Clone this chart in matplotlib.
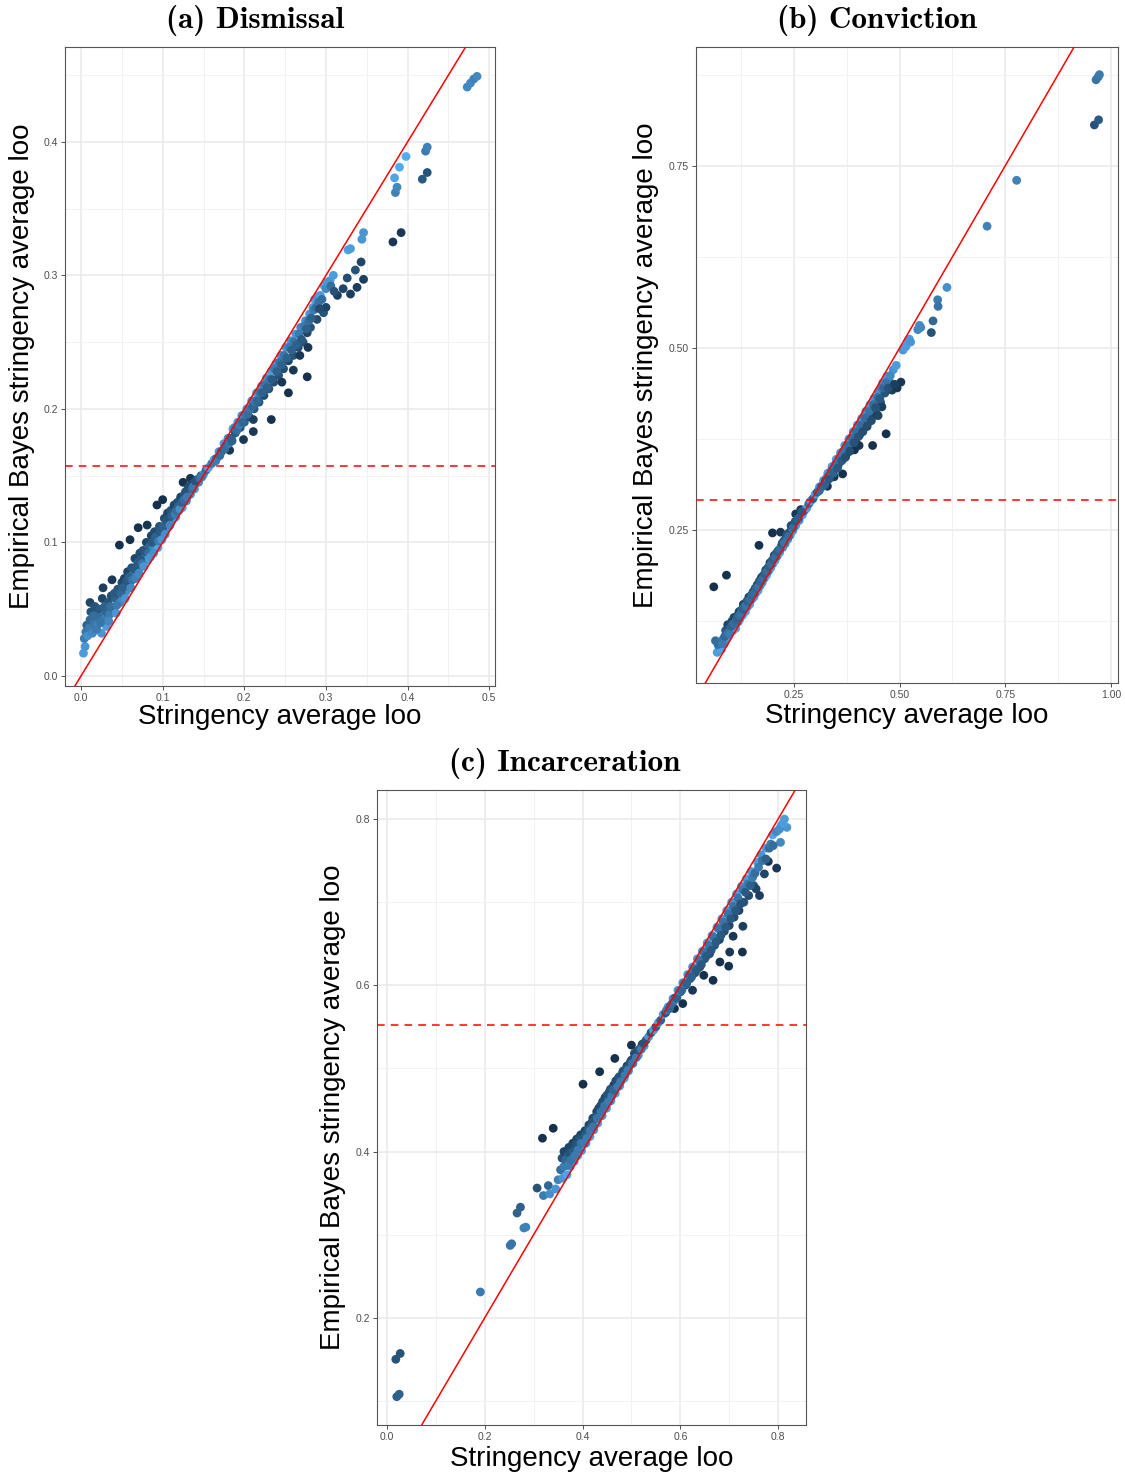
"""Empirical Bayes vs raw leave-one-out stringency, three outcomes."""
import matplotlib
matplotlib.use("Agg")
import matplotlib.pyplot as plt
from matplotlib.colors import LinearSegmentedColormap

plt.rcParams["font.family"] = ["Liberation Sans", "DejaVu Sans"]

# (stringency loo, EB stringency loo, shade)  shade: 0 dark navy .. 1 light blue
dismissal_pts = [
    (0.003, 0.017, 0.85), (0.005, 0.022, 0.8), (0.004, 0.028, 0.6), (0.006, 0.033, 0.55),
    (0.008, 0.030, 0.75), (0.007, 0.038, 0.4), (0.010, 0.036, 0.6), (0.011, 0.042, 0.45),
    (0.012, 0.048, 0.3), (0.011, 0.055, 0.2), (0.014, 0.032, 0.7), (0.016, 0.040, 0.55),
    (0.018, 0.046, 0.4), (0.017, 0.052, 0.3), (0.020, 0.038, 0.65), (0.022, 0.044, 0.5),
    (0.023, 0.050, 0.35), (0.025, 0.032, 0.8), (0.026, 0.058, 0.2), (0.027, 0.066, 0.15),
    (0.028, 0.042, 0.6), (0.030, 0.048, 0.45), (0.031, 0.037, 0.85), (0.033, 0.055, 0.3),
    (0.035, 0.046, 0.6), (0.037, 0.060, 0.25), (0.038, 0.072, 0.1), (0.040, 0.050, 0.55),
    (0.042, 0.058, 0.4), (0.043, 0.047, 0.8), (0.045, 0.065, 0.3), (0.047, 0.098, 0.05),
    (0.048, 0.055, 0.7), (0.050, 0.070, 0.25), (0.052, 0.060, 0.6), (0.053, 0.073, 0.2),
    (0.055, 0.063, 0.75), (0.057, 0.078, 0.2), (0.058, 0.068, 0.5), (0.060, 0.102, 0.05),
    (0.060, 0.070, 0.85), (0.062, 0.081, 0.3), (0.064, 0.076, 0.6), (0.066, 0.088, 0.2),
    (0.068, 0.078, 0.75), (0.070, 0.111, 0.05), (0.070, 0.085, 0.4), (0.072, 0.092, 0.25),
    (0.074, 0.082, 0.8), (0.076, 0.094, 0.3), (0.078, 0.088, 0.6), (0.080, 0.100, 0.2),
    (0.081, 0.113, 0.08), (0.082, 0.087, 0.85), (0.084, 0.097, 0.45), (0.086, 0.105, 0.2),
    (0.088, 0.095, 0.7), (0.090, 0.108, 0.25), (0.092, 0.100, 0.55), (0.093, 0.128, 0.05),
    (0.094, 0.096, 0.9), (0.096, 0.112, 0.3), (0.098, 0.106, 0.6), (0.100, 0.132, 0.05),
    (0.100, 0.104, 0.85), (0.102, 0.118, 0.25), (0.104, 0.110, 0.6), (0.106, 0.122, 0.2),
    (0.108, 0.112, 0.8), (0.110, 0.124, 0.3), (0.112, 0.117, 0.65), (0.114, 0.128, 0.2),
    (0.116, 0.119, 0.85), (0.118, 0.130, 0.25), (0.120, 0.124, 0.6), (0.122, 0.134, 0.2),
    (0.124, 0.126, 0.9), (0.125, 0.145, 0.05), (0.127, 0.136, 0.3), (0.129, 0.131, 0.7),
    (0.131, 0.140, 0.2), (0.134, 0.148, 0.08), (0.134, 0.136, 0.75), (0.137, 0.144, 0.25),
    (0.139, 0.140, 0.85), (0.142, 0.147, 0.3), (0.144, 0.145, 0.7), (0.147, 0.150, 0.35),
    (0.150, 0.151, 0.8), (0.153, 0.154, 0.5), (0.156, 0.156, 0.9), (0.160, 0.159, 0.6),
    (0.163, 0.162, 0.85), (0.166, 0.163, 0.4), (0.169, 0.168, 0.8), (0.172, 0.168, 0.3),
    (0.175, 0.174, 0.85), (0.178, 0.172, 0.35), (0.180, 0.178, 0.75), (0.182, 0.169, 0.1),
    (0.184, 0.178, 0.4), (0.186, 0.185, 0.85), (0.189, 0.182, 0.35), (0.192, 0.190, 0.8),
    (0.195, 0.186, 0.3), (0.197, 0.195, 0.75), (0.199, 0.177, 0.1), (0.200, 0.190, 0.4),
    (0.203, 0.200, 0.85), (0.206, 0.194, 0.3), (0.209, 0.206, 0.8), (0.211, 0.183, 0.1),
    (0.211, 0.192, 0.15), (0.212, 0.200, 0.35), (0.215, 0.212, 0.85), (0.218, 0.205, 0.3),
    (0.221, 0.217, 0.75), (0.224, 0.210, 0.25), (0.227, 0.223, 0.8), (0.230, 0.215, 0.3),
    (0.233, 0.192, 0.05), (0.233, 0.228, 0.85), (0.236, 0.220, 0.25), (0.239, 0.234, 0.8),
    (0.242, 0.225, 0.3), (0.245, 0.240, 0.75), (0.246, 0.220, 0.1), (0.248, 0.230, 0.25),
    (0.251, 0.246, 0.8), (0.254, 0.212, 0.05), (0.254, 0.236, 0.2), (0.257, 0.251, 0.75),
    (0.260, 0.229, 0.1), (0.260, 0.240, 0.3), (0.263, 0.256, 0.8), (0.266, 0.246, 0.25),
    (0.268, 0.240, 0.1), (0.269, 0.261, 0.7), (0.272, 0.250, 0.3), (0.275, 0.266, 0.75),
    (0.277, 0.257, 0.2), (0.277, 0.224, 0.05), (0.278, 0.246, 0.1), (0.280, 0.271, 0.8),
    (0.281, 0.261, 0.3), (0.284, 0.276, 0.85), (0.286, 0.282, 0.9), (0.289, 0.267, 0.25),
    (0.290, 0.284, 0.8), (0.293, 0.285, 0.85), (0.297, 0.272, 0.3), (0.298, 0.292, 0.9),
    (0.305, 0.296, 0.85), (0.309, 0.300, 0.85), (0.314, 0.285, 0.15), (0.321, 0.290, 0.2),
    (0.326, 0.298, 0.25), (0.327, 0.319, 0.9), (0.330, 0.320, 0.85), (0.330, 0.286, 0.15),
    (0.336, 0.304, 0.3), (0.338, 0.291, 0.15), (0.343, 0.310, 0.2), (0.344, 0.327, 0.8),
    (0.346, 0.332, 0.8), (0.346, 0.297, 0.15), (0.382, 0.325, 0.1), (0.392, 0.332, 0.1),
    (0.384, 0.373, 0.9), (0.385, 0.362, 0.65), (0.387, 0.366, 0.7), (0.390, 0.381, 0.95),
    (0.398, 0.389, 0.95), (0.418, 0.372, 0.35), (0.424, 0.377, 0.3), (0.422, 0.393, 0.6),
    (0.424, 0.396, 0.65), (0.473, 0.441, 0.7), (0.477, 0.444, 0.7), (0.481, 0.447, 0.65),
    (0.485, 0.449, 0.7),
    # filling the dense band
    (0.015, 0.045, 0.5), (0.019, 0.035, 0.6), (0.024, 0.040, 0.55), (0.029, 0.052, 0.4),
    (0.034, 0.041, 0.7), (0.036, 0.052, 0.5), (0.041, 0.062, 0.35), (0.044, 0.053, 0.6),
    (0.049, 0.062, 0.45), (0.051, 0.066, 0.4), (0.054, 0.058, 0.8), (0.056, 0.071, 0.35),
    (0.059, 0.074, 0.4), (0.061, 0.066, 0.7), (0.063, 0.072, 0.55), (0.065, 0.080, 0.35),
    (0.067, 0.073, 0.65), (0.069, 0.083, 0.35), (0.071, 0.077, 0.7), (0.073, 0.087, 0.35),
    (0.075, 0.084, 0.55), (0.077, 0.082, 0.8), (0.079, 0.093, 0.35), (0.083, 0.092, 0.5),
    (0.085, 0.089, 0.8), (0.087, 0.100, 0.35), (0.089, 0.092, 0.75), (0.091, 0.104, 0.4),
    (0.095, 0.101, 0.6), (0.097, 0.108, 0.35), (0.099, 0.102, 0.8), (0.101, 0.112, 0.4),
    (0.103, 0.106, 0.75), (0.105, 0.116, 0.35), (0.107, 0.118, 0.3), (0.109, 0.113, 0.7),
    (0.111, 0.120, 0.4), (0.113, 0.122, 0.35), (0.115, 0.121, 0.6), (0.117, 0.124, 0.5),
    (0.119, 0.127, 0.4), (0.121, 0.125, 0.75), (0.123, 0.130, 0.4), (0.126, 0.132, 0.5),
    (0.128, 0.138, 0.3), (0.130, 0.134, 0.6), (0.132, 0.142, 0.25), (0.136, 0.140, 0.5),
    (0.138, 0.142, 0.6), (0.140, 0.146, 0.3), (0.145, 0.148, 0.5), (0.148, 0.149, 0.6),
    (0.165, 0.161, 0.6), (0.170, 0.165, 0.5), (0.176, 0.170, 0.5), (0.181, 0.174, 0.55),
    (0.185, 0.176, 0.4), (0.188, 0.186, 0.7), (0.191, 0.184, 0.5), (0.194, 0.188, 0.6),
    (0.198, 0.190, 0.45), (0.201, 0.196, 0.6), (0.204, 0.196, 0.5), (0.207, 0.200, 0.55),
    (0.210, 0.202, 0.45), (0.213, 0.206, 0.6), (0.216, 0.206, 0.45), (0.219, 0.212, 0.55),
    (0.222, 0.212, 0.4), (0.225, 0.218, 0.55), (0.228, 0.216, 0.4), (0.231, 0.222, 0.55),
    (0.234, 0.222, 0.35), (0.237, 0.230, 0.6), (0.240, 0.228, 0.4), (0.243, 0.235, 0.55),
    (0.246, 0.233, 0.4), (0.249, 0.240, 0.55), (0.252, 0.238, 0.4), (0.255, 0.246, 0.6),
    (0.258, 0.244, 0.4), (0.261, 0.250, 0.55), (0.264, 0.248, 0.4), (0.267, 0.256, 0.6),
    (0.270, 0.252, 0.35), (0.273, 0.262, 0.6), (0.276, 0.260, 0.4), (0.279, 0.266, 0.5),
    (0.282, 0.268, 0.4), (0.285, 0.274, 0.6), (0.288, 0.276, 0.5), (0.291, 0.280, 0.55),
    (0.295, 0.282, 0.5), (0.300, 0.290, 0.7), (0.302, 0.295, 0.8), (0.306, 0.292, 0.5),
    (0.310, 0.288, 0.3), (0.300, 0.276, 0.2), (0.292, 0.275, 0.25),
]

conviction_pts = [
    (0.064, 0.098, 0.5), (0.068, 0.082, 0.85), (0.072, 0.090, 0.7), (0.075, 0.095, 0.6),
    (0.078, 0.086, 0.9), (0.082, 0.100, 0.55), (0.085, 0.094, 0.85), (0.088, 0.112, 0.35),
    (0.090, 0.100, 0.75), (0.093, 0.120, 0.2), (0.095, 0.104, 0.85), (0.098, 0.115, 0.4),
    (0.100, 0.110, 0.7), (0.103, 0.125, 0.25), (0.105, 0.112, 0.8), (0.108, 0.130, 0.2),
    (0.110, 0.120, 0.55), (0.112, 0.115, 0.9), (0.115, 0.132, 0.3), (0.118, 0.124, 0.7),
    (0.120, 0.138, 0.2), (0.122, 0.128, 0.8), (0.125, 0.140, 0.35), (0.128, 0.133, 0.85),
    (0.130, 0.148, 0.2), (0.132, 0.140, 0.5), (0.135, 0.138, 0.9), (0.138, 0.152, 0.3),
    (0.140, 0.145, 0.7), (0.143, 0.158, 0.2), (0.145, 0.148, 0.85), (0.148, 0.160, 0.35),
    (0.150, 0.155, 0.7), (0.153, 0.165, 0.25), (0.155, 0.158, 0.85), (0.158, 0.170, 0.3),
    (0.160, 0.164, 0.75), (0.163, 0.175, 0.25), (0.165, 0.167, 0.9), (0.167, 0.229, 0.05),
    (0.168, 0.180, 0.3), (0.170, 0.174, 0.7), (0.173, 0.185, 0.2), (0.175, 0.178, 0.85),
    (0.178, 0.188, 0.3), (0.180, 0.184, 0.75), (0.183, 0.195, 0.25), (0.185, 0.188, 0.9),
    (0.188, 0.198, 0.3), (0.190, 0.194, 0.7), (0.193, 0.205, 0.2), (0.195, 0.198, 0.85),
    (0.198, 0.208, 0.3), (0.199, 0.246, 0.05), (0.200, 0.204, 0.75), (0.203, 0.215, 0.2),
    (0.205, 0.208, 0.9), (0.208, 0.218, 0.3), (0.210, 0.214, 0.7), (0.213, 0.222, 0.25),
    (0.216, 0.219, 0.85), (0.218, 0.247, 0.1), (0.220, 0.228, 0.3), (0.223, 0.226, 0.75),
    (0.226, 0.235, 0.25), (0.229, 0.231, 0.85), (0.232, 0.240, 0.3), (0.235, 0.237, 0.8),
    (0.238, 0.246, 0.25), (0.241, 0.243, 0.85), (0.244, 0.252, 0.3), (0.247, 0.249, 0.8),
    (0.250, 0.258, 0.25), (0.254, 0.272, 0.1), (0.254, 0.256, 0.85), (0.258, 0.263, 0.3),
    (0.262, 0.263, 0.8), (0.266, 0.278, 0.1), (0.266, 0.270, 0.3), (0.270, 0.271, 0.85),
    (0.275, 0.277, 0.4), (0.280, 0.280, 0.85), (0.285, 0.286, 0.5), (0.290, 0.290, 0.85),
    (0.295, 0.293, 0.4), (0.300, 0.299, 0.85), (0.305, 0.302, 0.4), (0.310, 0.309, 0.85),
    (0.315, 0.310, 0.35), (0.320, 0.318, 0.8), (0.325, 0.318, 0.3), (0.329, 0.310, 0.1),
    (0.330, 0.328, 0.85), (0.335, 0.325, 0.3), (0.340, 0.337, 0.8), (0.345, 0.323, 0.1),
    (0.345, 0.333, 0.3), (0.350, 0.347, 0.85), (0.355, 0.340, 0.25), (0.360, 0.356, 0.8),
    (0.365, 0.327, 0.05), (0.365, 0.347, 0.2), (0.370, 0.366, 0.85), (0.375, 0.355, 0.25),
    (0.380, 0.375, 0.8), (0.385, 0.362, 0.2), (0.390, 0.385, 0.85), (0.393, 0.360, 0.05),
    (0.395, 0.372, 0.25), (0.400, 0.394, 0.8), (0.404, 0.366, 0.1), (0.405, 0.380, 0.2),
    (0.410, 0.403, 0.85), (0.415, 0.390, 0.25), (0.420, 0.413, 0.8), (0.425, 0.397, 0.2),
    (0.430, 0.422, 0.85), (0.435, 0.405, 0.2), (0.436, 0.366, 0.05), (0.440, 0.431, 0.8),
    (0.445, 0.410, 0.15), (0.449, 0.407, 0.2), (0.450, 0.440, 0.75), (0.455, 0.425, 0.3),
    (0.458, 0.419, 0.15), (0.460, 0.452, 0.8), (0.465, 0.438, 0.3), (0.468, 0.382, 0.05),
    (0.470, 0.461, 0.85), (0.475, 0.455, 0.6), (0.482, 0.442, 0.15), (0.484, 0.447, 0.1),
    (0.485, 0.470, 0.8), (0.492, 0.476, 0.85), (0.494, 0.445, 0.1), (0.503, 0.453, 0.1),
    (0.508, 0.497, 0.8), (0.511, 0.500, 0.85), (0.520, 0.510, 0.9), (0.523, 0.512, 0.85),
    (0.543, 0.525, 0.7), (0.547, 0.531, 0.75), (0.575, 0.521, 0.3), (0.579, 0.537, 0.45),
    (0.590, 0.566, 0.6), (0.591, 0.557, 0.55), (0.612, 0.583, 0.75), (0.707, 0.667, 0.65),
    (0.777, 0.730, 0.65), (0.965, 0.868, 0.55), (0.970, 0.872, 0.55), (0.973, 0.875, 0.6),
    (0.961, 0.806, 0.3), (0.971, 0.813, 0.35), (0.060, 0.172, 0.05), (0.090, 0.188, 0.05),
    # filling the dense band
    (0.070, 0.093, 0.5), (0.080, 0.094, 0.6), (0.086, 0.104, 0.45), (0.092, 0.108, 0.5),
    (0.097, 0.108, 0.6), (0.102, 0.118, 0.4), (0.107, 0.121, 0.5), (0.113, 0.126, 0.45),
    (0.117, 0.130, 0.4), (0.121, 0.133, 0.5), (0.126, 0.136, 0.55), (0.129, 0.141, 0.4),
    (0.133, 0.145, 0.45), (0.137, 0.146, 0.55), (0.141, 0.152, 0.4), (0.146, 0.154, 0.5),
    (0.151, 0.161, 0.45), (0.156, 0.163, 0.5), (0.161, 0.170, 0.45), (0.166, 0.172, 0.55),
    (0.171, 0.179, 0.45), (0.176, 0.183, 0.5), (0.181, 0.190, 0.4), (0.186, 0.193, 0.5),
    (0.191, 0.200, 0.4), (0.196, 0.203, 0.5), (0.201, 0.210, 0.4), (0.206, 0.213, 0.5),
    (0.211, 0.220, 0.4), (0.217, 0.224, 0.5), (0.222, 0.232, 0.35), (0.227, 0.232, 0.55),
    (0.233, 0.244, 0.3), (0.237, 0.241, 0.5), (0.243, 0.256, 0.25), (0.248, 0.253, 0.5),
    (0.253, 0.262, 0.35), (0.260, 0.266, 0.4), (0.268, 0.275, 0.35),
    (0.310, 0.304, 0.5), (0.318, 0.310, 0.45), (0.323, 0.313, 0.4), (0.328, 0.322, 0.6),
    (0.333, 0.320, 0.35), (0.338, 0.331, 0.55), (0.343, 0.328, 0.4), (0.348, 0.340, 0.55),
    (0.353, 0.335, 0.35), (0.358, 0.349, 0.55), (0.363, 0.345, 0.35), (0.368, 0.358, 0.55),
    (0.372, 0.350, 0.25), (0.378, 0.366, 0.5), (0.382, 0.358, 0.25), (0.388, 0.376, 0.5),
    (0.392, 0.370, 0.3), (0.398, 0.385, 0.5), (0.402, 0.378, 0.3), (0.408, 0.394, 0.5),
    (0.413, 0.385, 0.25), (0.418, 0.404, 0.5), (0.423, 0.392, 0.25), (0.428, 0.413, 0.55),
    (0.433, 0.400, 0.25), (0.438, 0.422, 0.5), (0.443, 0.418, 0.3), (0.448, 0.432, 0.55),
    (0.453, 0.430, 0.35), (0.458, 0.445, 0.6), (0.463, 0.445, 0.45), (0.468, 0.452, 0.55),
    (0.473, 0.445, 0.3), (0.478, 0.462, 0.7), (0.488, 0.450, 0.15), (0.515, 0.502, 0.85),
    (0.526, 0.508, 0.8), (0.550, 0.528, 0.7),
]

incarceration_pts = [
    (0.018, 0.150, 0.3), (0.027, 0.157, 0.3), (0.020, 0.105, 0.4), (0.025, 0.108, 0.4),
    (0.191, 0.231, 0.6), (0.252, 0.287, 0.55), (0.255, 0.289, 0.55), (0.266, 0.326, 0.4),
    (0.273, 0.333, 0.4), (0.280, 0.308, 0.65), (0.284, 0.309, 0.65), (0.307, 0.356, 0.3),
    (0.318, 0.416, 0.05), (0.320, 0.347, 0.6), (0.330, 0.359, 0.45), (0.333, 0.349, 0.75),
    (0.340, 0.428, 0.05), (0.345, 0.355, 0.8), (0.350, 0.366, 0.65), (0.355, 0.378, 0.5),
    (0.358, 0.392, 0.3), (0.360, 0.368, 0.8), (0.362, 0.400, 0.2), (0.365, 0.383, 0.55),
    (0.368, 0.372, 0.9), (0.370, 0.395, 0.35), (0.372, 0.405, 0.2), (0.375, 0.382, 0.75),
    (0.378, 0.398, 0.4), (0.380, 0.410, 0.2), (0.383, 0.388, 0.85), (0.385, 0.402, 0.45),
    (0.388, 0.415, 0.2), (0.390, 0.395, 0.8), (0.393, 0.410, 0.4), (0.396, 0.420, 0.2),
    (0.398, 0.401, 0.85), (0.401, 0.481, 0.05), (0.402, 0.416, 0.4), (0.405, 0.425, 0.2),
    (0.407, 0.410, 0.8), (0.410, 0.422, 0.4), (0.413, 0.432, 0.2), (0.415, 0.418, 0.85),
    (0.418, 0.430, 0.4), (0.421, 0.440, 0.2), (0.423, 0.426, 0.8), (0.426, 0.437, 0.4),
    (0.429, 0.448, 0.15), (0.431, 0.434, 0.85), (0.434, 0.445, 0.4), (0.435, 0.496, 0.05),
    (0.437, 0.455, 0.2), (0.440, 0.443, 0.8), (0.443, 0.454, 0.35), (0.446, 0.465, 0.15),
    (0.449, 0.452, 0.85), (0.452, 0.462, 0.4), (0.455, 0.472, 0.2), (0.458, 0.461, 0.8),
    (0.461, 0.470, 0.4), (0.464, 0.480, 0.15), (0.466, 0.512, 0.05), (0.467, 0.470, 0.85),
    (0.470, 0.479, 0.35), (0.473, 0.488, 0.2), (0.476, 0.479, 0.8), (0.479, 0.487, 0.4),
    (0.482, 0.495, 0.2), (0.485, 0.488, 0.85), (0.488, 0.496, 0.35), (0.491, 0.503, 0.15),
    (0.494, 0.497, 0.8), (0.497, 0.504, 0.4), (0.500, 0.528, 0.05), (0.500, 0.510, 0.2),
    (0.503, 0.506, 0.85), (0.507, 0.514, 0.35), (0.511, 0.520, 0.2), (0.514, 0.516, 0.8),
    (0.518, 0.524, 0.4), (0.522, 0.529, 0.2), (0.526, 0.527, 0.85), (0.530, 0.534, 0.35),
    (0.535, 0.538, 0.8), (0.540, 0.543, 0.3), (0.545, 0.546, 0.85), (0.550, 0.550, 0.4),
    (0.555, 0.555, 0.85), (0.560, 0.558, 0.4), (0.565, 0.565, 0.85), (0.570, 0.567, 0.3),
    (0.575, 0.574, 0.85), (0.580, 0.575, 0.25), (0.585, 0.584, 0.8), (0.588, 0.572, 0.05),
    (0.590, 0.585, 0.3), (0.595, 0.594, 0.85), (0.600, 0.592, 0.25), (0.605, 0.578, 0.05),
    (0.605, 0.603, 0.8), (0.610, 0.600, 0.25), (0.615, 0.613, 0.85), (0.620, 0.608, 0.3),
    (0.625, 0.594, 0.1), (0.625, 0.622, 0.8), (0.630, 0.615, 0.25), (0.635, 0.632, 0.85),
    (0.640, 0.622, 0.25), (0.645, 0.641, 0.8), (0.648, 0.612, 0.05), (0.650, 0.632, 0.3),
    (0.655, 0.651, 0.85), (0.660, 0.638, 0.25), (0.665, 0.660, 0.8), (0.667, 0.606, 0.05),
    (0.670, 0.648, 0.3), (0.675, 0.670, 0.85), (0.680, 0.655, 0.2), (0.681, 0.628, 0.05),
    (0.685, 0.680, 0.8), (0.690, 0.665, 0.25), (0.695, 0.690, 0.85), (0.699, 0.623, 0.05),
    (0.700, 0.672, 0.2), (0.701, 0.640, 0.1), (0.705, 0.700, 0.8), (0.708, 0.659, 0.1),
    (0.710, 0.682, 0.25), (0.715, 0.710, 0.85), (0.720, 0.690, 0.2), (0.725, 0.719, 0.8),
    (0.727, 0.640, 0.05), (0.728, 0.671, 0.15), (0.730, 0.700, 0.3), (0.735, 0.728, 0.85),
    (0.740, 0.708, 0.25), (0.745, 0.737, 0.85), (0.750, 0.720, 0.3), (0.755, 0.716, 0.2),
    (0.758, 0.748, 0.85), (0.762, 0.708, 0.15), (0.765, 0.757, 0.8), (0.772, 0.734, 0.2),
    (0.775, 0.765, 0.85), (0.780, 0.749, 0.1), (0.782, 0.765, 0.5), (0.789, 0.781, 0.9),
    (0.797, 0.741, 0.1), (0.805, 0.772, 0.7), (0.806, 0.792, 0.85), (0.813, 0.800, 0.85),
    (0.818, 0.790, 0.8),
    # filling the dense band
    (0.362, 0.382, 0.6), (0.366, 0.390, 0.45), (0.371, 0.384, 0.6), (0.374, 0.398, 0.3),
    (0.377, 0.390, 0.55), (0.381, 0.400, 0.35), (0.384, 0.395, 0.6), (0.387, 0.408, 0.3),
    (0.391, 0.402, 0.6), (0.394, 0.415, 0.3), (0.397, 0.410, 0.55), (0.403, 0.410, 0.6),
    (0.406, 0.420, 0.35), (0.409, 0.416, 0.6), (0.412, 0.426, 0.35), (0.416, 0.425, 0.6),
    (0.419, 0.435, 0.3), (0.422, 0.430, 0.55), (0.427, 0.442, 0.3), (0.430, 0.440, 0.55),
    (0.433, 0.452, 0.25), (0.438, 0.448, 0.55), (0.441, 0.460, 0.25), (0.445, 0.455, 0.55),
    (0.450, 0.468, 0.3), (0.453, 0.460, 0.6), (0.457, 0.475, 0.3), (0.460, 0.467, 0.6),
    (0.463, 0.474, 0.45), (0.468, 0.485, 0.25), (0.472, 0.478, 0.6), (0.475, 0.490, 0.3),
    (0.478, 0.484, 0.6), (0.483, 0.497, 0.3), (0.487, 0.492, 0.6), (0.490, 0.500, 0.3),
    (0.493, 0.498, 0.6), (0.498, 0.508, 0.3), (0.502, 0.506, 0.55), (0.506, 0.518, 0.25),
    (0.510, 0.513, 0.6), (0.515, 0.522, 0.3), (0.520, 0.523, 0.6), (0.525, 0.530, 0.3),
    (0.572, 0.570, 0.6), (0.578, 0.572, 0.45), (0.583, 0.578, 0.5), (0.588, 0.582, 0.55),
    (0.593, 0.585, 0.4), (0.598, 0.593, 0.6), (0.603, 0.594, 0.45), (0.608, 0.602, 0.55),
    (0.613, 0.602, 0.4), (0.618, 0.612, 0.55), (0.623, 0.610, 0.4), (0.628, 0.620, 0.55),
    (0.633, 0.618, 0.35), (0.638, 0.630, 0.55), (0.643, 0.625, 0.35), (0.648, 0.640, 0.55),
    (0.653, 0.635, 0.35), (0.658, 0.648, 0.55), (0.663, 0.642, 0.35), (0.668, 0.658, 0.55),
    (0.673, 0.652, 0.35), (0.678, 0.668, 0.55), (0.683, 0.660, 0.35), (0.688, 0.676, 0.55),
    (0.693, 0.670, 0.35), (0.698, 0.686, 0.55), (0.703, 0.680, 0.35), (0.708, 0.695, 0.55),
    (0.713, 0.690, 0.35), (0.718, 0.705, 0.55), (0.723, 0.698, 0.3), (0.728, 0.715, 0.6),
    (0.733, 0.712, 0.35), (0.738, 0.722, 0.6), (0.743, 0.720, 0.4), (0.748, 0.730, 0.6),
    (0.753, 0.735, 0.5), (0.760, 0.742, 0.6), (0.768, 0.750, 0.55), (0.775, 0.752, 0.4),
    (0.785, 0.770, 0.6), (0.790, 0.768, 0.5), (0.797, 0.785, 0.7), (0.803, 0.788, 0.75),
    (0.810, 0.795, 0.85),
]

# mean EB stringency (dashed line)
dismissal_mean = 0.157
conviction_mean = 0.291
incarceration_mean = 0.552

titles = ["(a) Dismissal", "(b) Conviction", "(c) Incarceration"]

dismissal_ticks = [0.0, 0.1, 0.2, 0.3, 0.4, 0.5]
dismissal_yticks = [0.0, 0.1, 0.2, 0.3, 0.4]
conviction_ticks = [0.25, 0.50, 0.75, 1.00]
conviction_yticks = [0.25, 0.50, 0.75]
incarceration_ticks = [0.0, 0.2, 0.4, 0.6, 0.8]
incarceration_yticks = [0.2, 0.4, 0.6, 0.8]

CMAP = LinearSegmentedColormap.from_list("gg", ["#132B43", "#56B1F7"])


def draw_panel(ax, pts, mean, xticks, yticks, xminor, yminor, xlim, ylim, fmt):
    xs = [p[0] for p in pts]
    ys = [p[1] for p in pts]
    cs = [p[2] for p in pts]

    ax.set_xlim(*xlim)
    ax.set_ylim(*ylim)
    ax.set_xticks(xticks)
    ax.set_yticks(yticks)
    ax.set_xticks(xminor, minor=True)
    ax.set_yticks(yminor, minor=True)
    ax.set_xticklabels([fmt.format(t) for t in xticks])
    ax.set_yticklabels([fmt.format(t) for t in yticks])

    ax.grid(True, which="major", color="#EBEBEB", lw=1.2, zorder=0)
    ax.grid(True, which="minor", color="#F2F2F2", lw=0.7, zorder=0)
    ax.set_axisbelow(True)

    ax.scatter(xs, ys, c=cs, cmap=CMAP, vmin=0, vmax=1, s=40, linewidths=0, zorder=2)
    ax.axline((0, 0), slope=1, color="red", lw=1.1, zorder=3)
    ax.axhline(mean, color="red", lw=1.1, ls=(0, (5, 4)), zorder=3)

    ax.tick_params(which="major", length=3, width=0.6, color="#333333",
                   labelsize=7.5, labelcolor="#4D4D4D", pad=2)
    ax.tick_params(which="minor", length=0)
    for sp in ax.spines.values():
        sp.set_color("#555555")
        sp.set_linewidth(0.8)

    ax.set_xlabel("Stringency average loo", fontsize=20, va="center")
    ax.set_ylabel("Empirical Bayes stringency average loo", fontsize=20, va="center")


fig = plt.figure(figsize=(11.25, 14.78), dpi=100)

ax_a = fig.add_axes([0.0578, 0.5359, 0.3822, 0.4323])
draw_panel(ax_a, dismissal_pts, dismissal_mean, dismissal_ticks, dismissal_yticks,
           [0.05, 0.15, 0.25, 0.35, 0.45], [0.05, 0.15, 0.25, 0.35, 0.45],
           (-0.0196, 0.507), (-0.0075, 0.471), "{:.1f}")
ax_a.xaxis.set_label_coords(0.5, -0.0485)
ax_a.yaxis.set_label_coords(-0.100, 0.5)

ax_b = fig.add_axes([0.6187, 0.5379, 0.3751, 0.4303])
draw_panel(ax_b, conviction_pts, conviction_mean, conviction_ticks, conviction_yticks,
           [0.125, 0.375, 0.625, 0.875], [0.125, 0.375, 0.625, 0.875],
           (0.018, 1.017), (0.040, 0.913), "{:.2f}")
ax_b.xaxis.set_label_coords(0.5, -0.052)
ax_b.yaxis.set_label_coords(-0.118, 0.5)

ax_c = fig.add_axes([0.3351, 0.0359, 0.3813, 0.4296])
draw_panel(ax_c, incarceration_pts, incarceration_mean, incarceration_ticks,
           incarceration_yticks, [0.1, 0.3, 0.5, 0.7], [0.1, 0.3, 0.5, 0.7],
           (-0.0205, 0.857), (0.071, 0.835), "{:.1f}")
ax_c.xaxis.set_label_coords(0.5, -0.0535)
ax_c.yaxis.set_label_coords(-0.103, 0.5)

# subfigure captions, centred over each panel incl. its y label
for x, y, t in [(0.2267, 0.9858, titles[0]), (0.7796, 0.9858, titles[1]),
                (0.5022, 0.4835, titles[2])]:
    fig.text(x, y, t, fontsize=22.5, family=["cmb10", "DejaVu Serif"],
             ha="center", va="center")

fig.savefig("out.png", dpi=100)
plt.close(fig)
